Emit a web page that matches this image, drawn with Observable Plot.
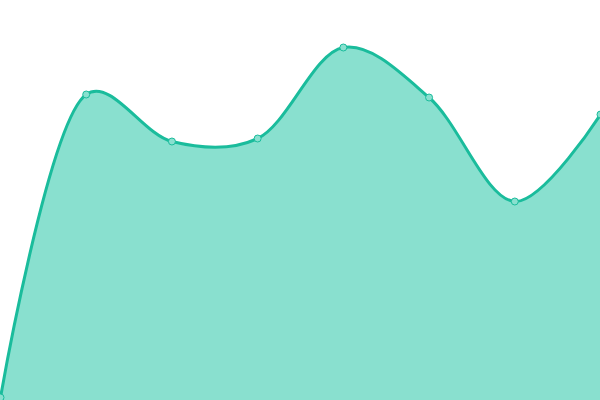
<!DOCTYPE html>
<html><head><meta charset="utf-8">
<script src="https://cdn.jsdelivr.net/npm/d3@7"></script>
<script src="https://cdn.jsdelivr.net/npm/@observablehq/plot@0.6"></script>
<style>body{margin:0;background:#fff}</style>
</head><body><div id="chart"></div>
<script>
const xs = [0, 1, 2, 3, 4, 5, 6, 7];
const values = [3, 306, 259, 262, 353, 303, 199, 286];
const data = xs.map((x, i) => ({x, y: values[i]}));
const chart = Plot.plot({
  width: 600, height: 400,
  margin: 0,
  x: {domain: [0, 7], axis: null},
  y: {domain: [0, 400], axis: null},
  marks: [
    Plot.areaY(data, {x: "x", y: "y", curve: "catmull-rom", tension: 0.35, fill: "#89e0cf"}),
    Plot.lineY(data, {x: "x", y: "y", curve: "catmull-rom", tension: 0.35, stroke: "#1abc9c", strokeWidth: 3}),
    Plot.dot(data, {x: "x", y: "y", r: 3.5, fill: "#89e0cf", stroke: "#1abc9c", strokeWidth: 1})
  ]
});
document.getElementById("chart").append(chart);
</script></body></html>
